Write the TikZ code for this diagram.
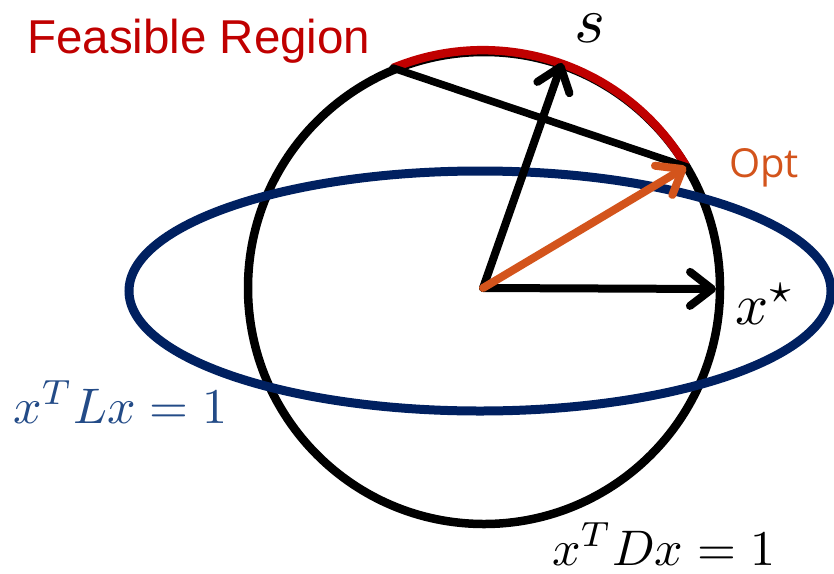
\documentclass[tikz,border=0pt]{standalone}
\usepackage{fontspec}
\usetikzlibrary{arrows.meta}
\newfontfamily\arialf{Liberation Sans}
\newfontfamily\optf{Open Sans}
\definecolor{feasred}{RGB}{192,0,0}
\definecolor{optorange}{RGB}{211,84,28}
\definecolor{navyline}{RGB}{0,32,96}
\definecolor{eqblue}{RGB}{35,75,135}
\begin{document}
\begin{tikzpicture}[x=1pt,y=-1pt,
  vec/.style={line width=8pt,line cap=round,-{Straight Barb[length=22pt,width=34pt,round]}},
  lbl/.style={inner sep=0pt,anchor=base west},
  mathlbl/.style={lbl,scale=#1}]
\useasboundingbox (0,0) rectangle (834,573);
% named points
\coordinate (O) at (483,288);
\coordinate (XS) at (716,289);
\coordinate (S) at (562,63);
\coordinate (OP) at (686,167);
\coordinate (A) at (393,68);
\coordinate (B) at (687,167);
% circle and ellipse
\draw[line width=8.5pt] (484,288) circle[radius=236pt];
\draw[navyline,line width=9pt] (480,291) ellipse[x radius=351pt,y radius=120pt];
% feasible arc and chord
\draw[feasred,line width=8.5pt] (A) arc[start angle=112.4,end angle=30.7,radius=236pt];
\draw[line width=7.5pt,line cap=round,line join=round] (A) -- (B);
% vectors
\draw[vec] (O) -- (S);
\draw[vec] (O) -- (XS);
\draw[vec,optorange] (O) -- (OP);
% labels
\node[lbl,feasred] (fr) at (27,53) {\arialf\fontsize{47.5}{52}\selectfont Feasible Region};
\node[mathlbl=6.6] (sl) at (573,42) {$s$};
\node[lbl,optorange] (opt) at (729,177) {\optf\fontsize{40}{44}\selectfont Opt};
\node[mathlbl=5.8] (xs) at (734,324) {$x^{\star}$};
\node[mathlbl=5,eqblue] (eqL) at (12,423) {$x^TLx=1$};
\node[mathlbl=5] (eqD) at (551,565) {$x^TDx=1$};
\end{tikzpicture}
\end{document}
